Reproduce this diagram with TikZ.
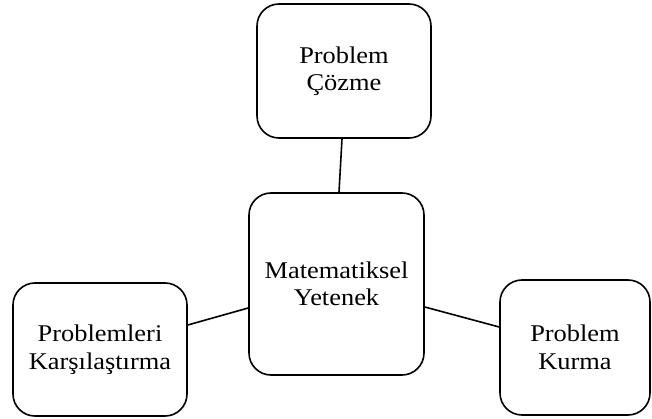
\documentclass[tikz,border=0pt]{standalone}
\usepackage{fontspec}
\setmainfont{Liberation Serif}[FakeStretch=1.1]

\begin{document}
\begin{tikzpicture}[x=1pt,y=-1pt,line width=1.6pt]

      \useasboundingbox (0,0) rectangle (652,419);

      \begin{scope}[every node/.style={draw,rounded corners=22pt,align=center,
          font=\fontsize{24}{27.5}\selectfont,inner sep=0pt}]
        \node[minimum width=174pt,minimum height=134pt] (cozme)  at (344,71)    {Problem\\Çözme};
        \node[minimum width=175pt,minimum height=182pt] (yetenek) at (336.5,284) {Matematiksel\\Yetenek};
        \node[minimum width=174pt,minimum height=133pt] (karsi)  at (100,349.5) {Problemleri\\Karşılaştırma};
        \node[minimum width=150pt,minimum height=135pt] (kurma)  at (575,347.5) {Problem\\Kurma};
      \end{scope}

      \draw ([xshift=-2pt]cozme.south) -- ([xshift=2.5pt]yetenek.north);
      \draw ([yshift=24.5pt]karsi.east) -- ([yshift=-24pt]yetenek.west);
      \draw ([yshift=-23pt]yetenek.east) -- ([yshift=20.5pt]kurma.west);

    \end{tikzpicture}
\end{document}
